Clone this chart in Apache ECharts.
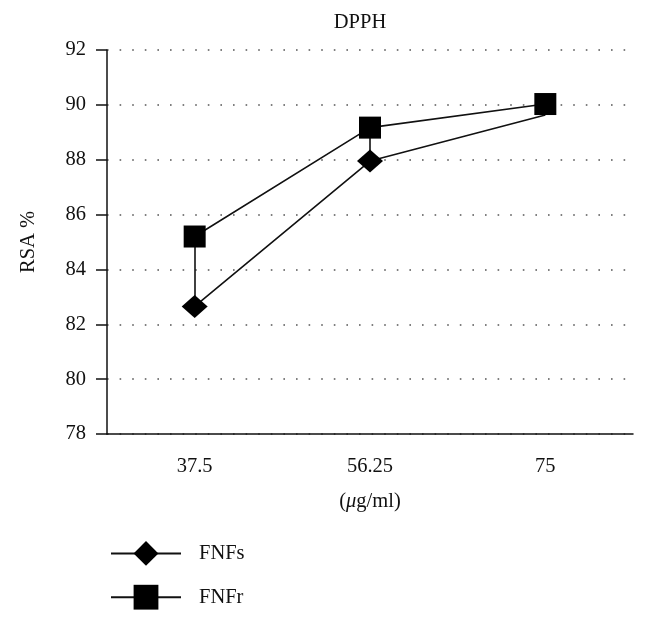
<!DOCTYPE html>
<html>
<head>
<meta charset="utf-8">
<script src="https://cdn.jsdelivr.net/npm/echarts@6/dist/echarts.min.js"></script>
<style>html,body{margin:0;padding:0;background:#fff}#c{width:648px;height:619px}</style>
</head>
<body>
<div id="c"></div>
<script>
const categories = ['37.5', '56.25', '75'];
const seriesNames = ['FNFs', 'FNFr'];
const fnfs = [82.65, 87.95, 89.63];
const fnfr = [85.2, 89.17, 90.03];
const yTicks = [78, 80, 82, 84, 86, 88, 90, 92];

const FONT = '"Liberation Serif", "DejaVu Serif", serif';
const FS = 20.5;
const chart = echarts.init(document.getElementById('c'), null, {renderer: 'canvas'});

// connectors between the two series at the first two concentrations
const connectors = [0, 1].map(i => [
  {coord: [i, fnfr[i]]},
  {coord: [i, fnfs[i]]}
]);

chart.setOption({
  animation: false,
  backgroundColor: '#fff',
  title: {
    text: 'DPPH',
    left: 355,
    textAlign: 'center',
    top: 7,
    textStyle: {fontFamily: FONT, fontSize: FS, fontWeight: 'normal', color: '#111'}
  },
  grid: {left: 107, right: 15, top: 50, bottom: 185},
  legend: {
    orient: 'vertical',
    left: 105,
    top: 536,
    itemWidth: 70,
    itemHeight: 31,
    itemGap: 19,
    data: seriesNames,
    textStyle: {fontFamily: FONT, fontSize: FS, color: '#111', padding: [0, 0, 0, 13]}
  },
  xAxis: {
    type: 'category',
    data: categories,
    boundaryGap: true,
    name: '{n|(}{i|μ}{n|g/ml)}',
    nameLocation: 'middle',
    nameGap: 57,
    nameTextStyle: {
      rich: {
        n: {fontFamily: FONT, fontSize: FS, color: '#111'},
        i: {fontFamily: FONT, fontSize: FS, color: '#111', fontStyle: 'italic'}
      }
    },
    axisLine: {lineStyle: {color: '#111', width: 1.5}},
    axisTick: {alignWithLabel: true, length: 12, lineStyle: {color: '#111', width: 1.5}},
    axisLabel: {fontFamily: FONT, fontSize: FS, color: '#111', margin: 22},
    splitLine: {show: false}
  },
  yAxis: {
    type: 'value',
    min: yTicks[0],
    max: yTicks[yTicks.length - 1],
    interval: 2,
    name: 'RSA %',
    nameLocation: 'middle',
    nameGap: 68,
    nameRotate: 90,
    nameTextStyle: {fontFamily: FONT, fontSize: FS, color: '#111'},
    axisLine: {show: true, lineStyle: {color: '#111', width: 1.5}},
    axisTick: {show: true, length: 11, lineStyle: {color: '#111', width: 1.5}},
    axisLabel: {fontFamily: FONT, fontSize: FS, color: '#111', margin: 21},
    splitLine: {
      show: true,
      lineStyle: {color: '#555', width: 1.6, type: [1.6, 11]}
    }
  },
  series: [
    {
      name: seriesNames[0],
      type: 'line',
      data: fnfs.map((v, i) => i === fnfs.length - 1 ? {value: v, symbol: 'none'} : v),
      symbol: 'diamond',
      symbolSize: [26, 23],
      showAllSymbol: true,
      z: 2,
      lineStyle: {color: '#111', width: 1.6},
      itemStyle: {color: '#000', borderWidth: 0}
    },
    {
      name: seriesNames[1],
      type: 'line',
      data: fnfr,
      symbol: 'rect',
      symbolSize: 22,
      showAllSymbol: true,
      z: 3,
      lineStyle: {color: '#111', width: 1.6},
      itemStyle: {color: '#000', borderWidth: 0},
      markLine: {
        silent: true,
        symbol: ['none', 'none'],
        label: {show: false},
        lineStyle: {color: '#111', width: 1.6, type: 'solid'},
        z: 1,
        data: connectors
      }
    }
  ]
});
</script>
</body>
</html>
